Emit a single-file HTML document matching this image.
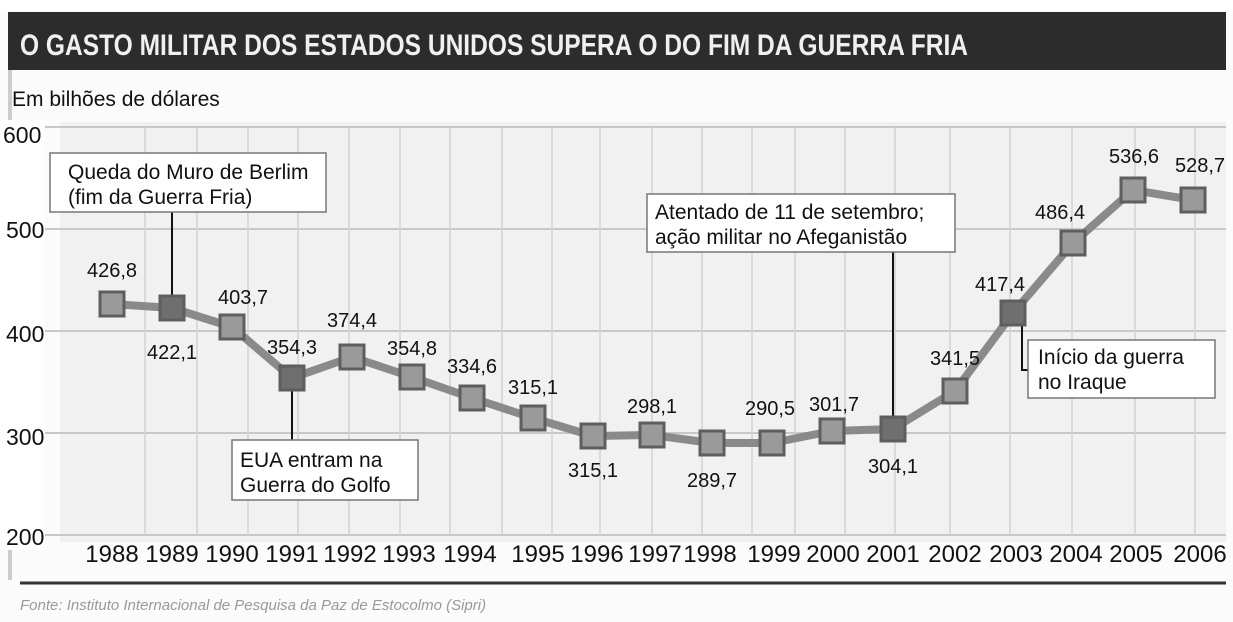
<!DOCTYPE html>
<html><head><meta charset="utf-8"><style>
html,body{margin:0;padding:0;background:#fff;}
svg{display:block;}
text{font-family:"Liberation Sans",sans-serif;fill:#111;}
</style></head><body>
<svg width="1233" height="622" viewBox="0 0 1233 622">
<rect width="1233" height="622" fill="#fbfbfb"/>
<rect x="0" y="0" width="1233" height="10" fill="#fff"/>
<rect x="8" y="12" width="1218" height="58" fill="#2c2c2c"/>
<text x="20" y="55" font-size="30" font-weight="bold" style="fill:#f0f0f0;font-family:'Liberation Sans Narrow','Liberation Sans',sans-serif" textLength="948" lengthAdjust="spacingAndGlyphs">O GASTO MILITAR DOS ESTADOS UNIDOS SUPERA O DO FIM DA GUERRA FRIA</text>
<rect x="8" y="70" width="4" height="510" fill="#ccc"/>
<text x="12" y="106" font-size="21">Em bilhões de dólares</text>
<rect x="60" y="122" width="1166" height="420" fill="#f1f1f1"/>
<g stroke="#c8c8c8" stroke-width="2">
<line x1="45" y1="127" x2="1226" y2="127"/>
<line x1="45" y1="229" x2="1226" y2="229"/>
<line x1="45" y1="331" x2="1226" y2="331"/>
<line x1="45" y1="433" x2="1226" y2="433"/>
<line x1="45" y1="535" x2="1226" y2="535"/>
</g>
<g stroke="#d2d2d2" stroke-width="1.5">
<line x1="145" y1="127" x2="145" y2="535"/><line x1="197" y1="127" x2="197" y2="535"/><line x1="248" y1="127" x2="248" y2="535"/><line x1="298" y1="127" x2="298" y2="535"/><line x1="349" y1="127" x2="349" y2="535"/><line x1="400" y1="127" x2="400" y2="535"/><line x1="450" y1="127" x2="450" y2="535"/><line x1="502" y1="127" x2="502" y2="535"/><line x1="552" y1="127" x2="552" y2="535"/><line x1="600" y1="127" x2="600" y2="535"/><line x1="652" y1="127" x2="652" y2="535"/><line x1="702" y1="127" x2="702" y2="535"/><line x1="752" y1="127" x2="752" y2="535"/><line x1="795" y1="127" x2="795" y2="535"/><line x1="845" y1="127" x2="845" y2="535"/><line x1="895" y1="127" x2="895" y2="535"/><line x1="950" y1="127" x2="950" y2="535"/><line x1="1010" y1="127" x2="1010" y2="535"/><line x1="1072" y1="127" x2="1072" y2="535"/><line x1="1135" y1="127" x2="1135" y2="535"/><line x1="1195" y1="127" x2="1195" y2="535"/>
</g>
<rect x="0" y="120" width="44" height="430" fill="#fff"/>
<g font-size="23">
<text x="3" y="143">600</text><text x="6" y="238">500</text><text x="6" y="342">400</text><text x="6" y="445">300</text><text x="6" y="545">200</text>
</g>
<g stroke="#111" stroke-width="2" fill="none">
<line x1="172" y1="210" x2="172" y2="300"/>
<line x1="292" y1="385" x2="292" y2="442"/>
<line x1="893" y1="250" x2="893" y2="420"/>
<polyline points="1022,325 1022,370 1030,370"/>
</g>
<polyline fill="none" stroke="#8a8a8a" stroke-width="8" stroke-linejoin="round" points="112,304 172,308 232,327 292,378 352,357 412,377 472,398 533,418 593,436 652,435 712,443 772,443 832,431 893,429 955,391 1013,313 1073,243 1133,190 1193,200"/>
<g stroke="#5e5e5e" stroke-width="3" fill="#9a9a9a">
<rect x="100" y="292" width="24" height="24"/>
<rect x="160" y="296" width="24" height="24" fill="#6f6f6f"/>
<rect x="220" y="315" width="24" height="24"/>
<rect x="280" y="366" width="24" height="24" fill="#6f6f6f"/>
<rect x="340" y="345" width="24" height="24"/>
<rect x="400" y="365" width="24" height="24"/>
<rect x="460" y="386" width="24" height="24"/>
<rect x="521" y="406" width="24" height="24"/>
<rect x="581" y="424" width="24" height="24"/>
<rect x="640" y="423" width="24" height="24"/>
<rect x="700" y="431" width="24" height="24"/>
<rect x="760" y="431" width="24" height="24"/>
<rect x="820" y="419" width="24" height="24"/>
<rect x="881" y="417" width="24" height="24" fill="#6f6f6f"/>
<rect x="943" y="379" width="24" height="24"/>
<rect x="1001" y="301" width="24" height="24" fill="#6f6f6f"/>
<rect x="1061" y="231" width="24" height="24"/>
<rect x="1121" y="178" width="24" height="24"/>
<rect x="1181" y="188" width="24" height="24"/>
</g>
<g font-size="20" text-anchor="middle">
<text x="112" y="277">426,8</text><text x="172" y="359">422,1</text><text x="243" y="304">403,7</text><text x="292" y="354">354,3</text><text x="352" y="327">374,4</text><text x="412" y="355">354,8</text><text x="472" y="373">334,6</text><text x="533" y="394">315,1</text><text x="593" y="477">315,1</text><text x="652" y="413">298,1</text><text x="712" y="487">289,7</text><text x="770" y="415">290,5</text><text x="834" y="411">301,7</text><text x="893" y="473">304,1</text><text x="955" y="365">341,5</text><text x="1000" y="291">417,4</text><text x="1060" y="219">486,4</text><text x="1134" y="163">536,6</text><text x="1200" y="172">528,7</text>
</g>
<g fill="#fff" stroke="#777" stroke-width="1.5">
<rect x="50" y="153" width="276" height="59"/>
<rect x="232" y="440" width="186" height="60"/>
<rect x="647" y="194" width="308" height="58"/>
<rect x="1028" y="340" width="187" height="58"/>
</g>
<g font-size="21">
<text x="68" y="179">Queda do Muro de Berlim</text><text x="68" y="204">(fim da Guerra Fria)</text>
<text x="240" y="467">EUA entram na</text><text x="240" y="492">Guerra do Golfo</text>
<text x="655" y="219">Atentado de 11 de setembro;</text><text x="655" y="244">ação militar no Afeganistão</text>
<text x="1038" y="364">Início da guerra</text><text x="1038" y="389">no Iraque</text>
</g>
<g font-size="24" text-anchor="middle">
<text x="112" y="562">1988</text><text x="172" y="562">1989</text><text x="232" y="562">1990</text><text x="292" y="562">1991</text><text x="350" y="562">1992</text><text x="409" y="562">1993</text><text x="470" y="562">1994</text><text x="538" y="562">1995</text><text x="597" y="562">1996</text><text x="655" y="562">1997</text><text x="710" y="562">1998</text><text x="774" y="562">1999</text><text x="833" y="562">2000</text><text x="893" y="562">2001</text><text x="955" y="562">2002</text><text x="1016" y="562">2003</text><text x="1076" y="562">2004</text><text x="1136" y="562">2005</text><text x="1200" y="562">2006</text>
</g>
<line x1="20" y1="583" x2="1226" y2="583" stroke="#333" stroke-width="3"/>
<text x="20" y="610" font-size="15" font-style="italic" style="fill:#999">Fonte: Instituto Internacional de Pesquisa da Paz de Estocolmo (Sipri)</text>
</svg>
</body></html>
